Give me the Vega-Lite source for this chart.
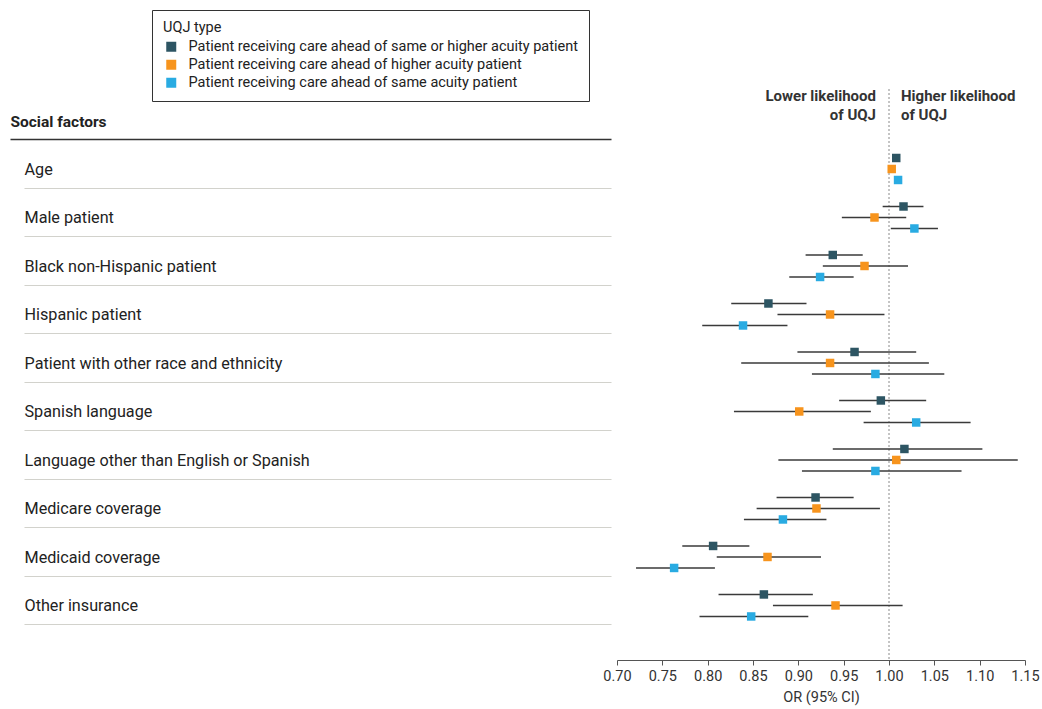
{
  "$schema": "https://vega.github.io/schema/vega-lite/v6.json",
  "autosize": {"type": "none"},
  "padding": {"left": 617, "top": 89, "right": 17, "bottom": 49},
  "width": 408,
  "height": 571,
  "config": {
    "font": "Roboto",
    "view": {"stroke": null},
    "axis": {"labelFont": "Roboto", "titleFont": "Roboto"},
    "legend": {"labelFont": "Roboto", "titleFont": "Roboto"}
  },
  "datasets": {
    "est": [
      {"factor": "Age", "series": "Patient receiving care ahead of same or higher acuity patient", "or": 1.008, "lo": 1.006, "hi": 1.010},
      {"factor": "Age", "series": "Patient receiving care ahead of higher acuity patient", "or": 1.003, "lo": 1.001, "hi": 1.005},
      {"factor": "Age", "series": "Patient receiving care ahead of same acuity patient", "or": 1.010, "lo": 1.008, "hi": 1.012},
      {"factor": "Male patient", "series": "Patient receiving care ahead of same or higher acuity patient", "or": 1.016, "lo": 0.993, "hi": 1.038},
      {"factor": "Male patient", "series": "Patient receiving care ahead of higher acuity patient", "or": 0.984, "lo": 0.948, "hi": 1.019},
      {"factor": "Male patient", "series": "Patient receiving care ahead of same acuity patient", "or": 1.028, "lo": 1.002, "hi": 1.054},
      {"factor": "Black non-Hispanic patient", "series": "Patient receiving care ahead of same or higher acuity patient", "or": 0.938, "lo": 0.908, "hi": 0.971},
      {"factor": "Black non-Hispanic patient", "series": "Patient receiving care ahead of higher acuity patient", "or": 0.973, "lo": 0.927, "hi": 1.021},
      {"factor": "Black non-Hispanic patient", "series": "Patient receiving care ahead of same acuity patient", "or": 0.924, "lo": 0.890, "hi": 0.961},
      {"factor": "Hispanic patient", "series": "Patient receiving care ahead of same or higher acuity patient", "or": 0.867, "lo": 0.826, "hi": 0.909},
      {"factor": "Hispanic patient", "series": "Patient receiving care ahead of higher acuity patient", "or": 0.935, "lo": 0.877, "hi": 0.995},
      {"factor": "Hispanic patient", "series": "Patient receiving care ahead of same acuity patient", "or": 0.839, "lo": 0.794, "hi": 0.888},
      {"factor": "Patient with other race and ethnicity", "series": "Patient receiving care ahead of same or higher acuity patient", "or": 0.962, "lo": 0.899, "hi": 1.030},
      {"factor": "Patient with other race and ethnicity", "series": "Patient receiving care ahead of higher acuity patient", "or": 0.935, "lo": 0.837, "hi": 1.044},
      {"factor": "Patient with other race and ethnicity", "series": "Patient receiving care ahead of same acuity patient", "or": 0.985, "lo": 0.915, "hi": 1.061},
      {"factor": "Spanish language", "series": "Patient receiving care ahead of same or higher acuity patient", "or": 0.991, "lo": 0.945, "hi": 1.041},
      {"factor": "Spanish language", "series": "Patient receiving care ahead of higher acuity patient", "or": 0.901, "lo": 0.829, "hi": 0.980},
      {"factor": "Spanish language", "series": "Patient receiving care ahead of same acuity patient", "or": 1.030, "lo": 0.972, "hi": 1.090},
      {"factor": "Language other than English or Spanish", "series": "Patient receiving care ahead of same or higher acuity patient", "or": 1.017, "lo": 0.938, "hi": 1.103},
      {"factor": "Language other than English or Spanish", "series": "Patient receiving care ahead of higher acuity patient", "or": 1.008, "lo": 0.878, "hi": 1.142},
      {"factor": "Language other than English or Spanish", "series": "Patient receiving care ahead of same acuity patient", "or": 0.985, "lo": 0.904, "hi": 1.080},
      {"factor": "Medicare coverage", "series": "Patient receiving care ahead of same or higher acuity patient", "or": 0.919, "lo": 0.876, "hi": 0.961},
      {"factor": "Medicare coverage", "series": "Patient receiving care ahead of higher acuity patient", "or": 0.920, "lo": 0.854, "hi": 0.990},
      {"factor": "Medicare coverage", "series": "Patient receiving care ahead of same acuity patient", "or": 0.883, "lo": 0.840, "hi": 0.931},
      {"factor": "Medicaid coverage", "series": "Patient receiving care ahead of same or higher acuity patient", "or": 0.806, "lo": 0.772, "hi": 0.846},
      {"factor": "Medicaid coverage", "series": "Patient receiving care ahead of higher acuity patient", "or": 0.866, "lo": 0.810, "hi": 0.925},
      {"factor": "Medicaid coverage", "series": "Patient receiving care ahead of same acuity patient", "or": 0.763, "lo": 0.721, "hi": 0.808},
      {"factor": "Other insurance", "series": "Patient receiving care ahead of same or higher acuity patient", "or": 0.862, "lo": 0.812, "hi": 0.916},
      {"factor": "Other insurance", "series": "Patient receiving care ahead of higher acuity patient", "or": 0.941, "lo": 0.872, "hi": 1.015},
      {"factor": "Other insurance", "series": "Patient receiving care ahead of same acuity patient", "or": 0.848, "lo": 0.791, "hi": 0.911}
    ]
  },
  "layer": [
    {
      "data": {"values": [{"ref": 1.0}]},
      "mark": {"type": "rule", "color": "#8a8a8a", "strokeWidth": 1, "strokeDash": [2, 2]},
      "encoding": {"x": {"field": "ref", "type": "quantitative"}}
    },
    {
      "data": {"values": [{"side": "lower", "note": "Lower likelihood\nof UQJ", "ref": 1.0, "row": "Social factors"}]},
      "mark": {"type": "text", "align": "right", "baseline": "bottom", "dx": -13, "dy": -16, "fontSize": 15, "fontWeight": "bold", "color": "#333333", "lineBreak": "\n", "lineHeight": 19},
      "encoding": {
        "x": {"field": "ref", "type": "quantitative"},
        "y": {"field": "row", "type": "nominal"},
        "text": {"field": "note"}
      }
    },
    {
      "data": {"values": [{"side": "higher", "note": "Higher likelihood\nof UQJ", "ref": 1.0, "row": "Social factors"}]},
      "mark": {"type": "text", "align": "left", "baseline": "bottom", "dx": 12, "dy": -16, "fontSize": 15, "fontWeight": "bold", "color": "#333333", "lineBreak": "\n", "lineHeight": 19},
      "encoding": {
        "x": {"field": "ref", "type": "quantitative"},
        "y": {"field": "row", "type": "nominal"},
        "text": {"field": "note"}
      }
    },
    {
      "data": {"name": "est"},
      "mark": {"type": "rule", "color": "#3a3a3a", "strokeWidth": 1.6},
      "encoding": {
        "x": {"field": "lo", "type": "quantitative"},
        "x2": {"field": "hi"},
        "y": {"field": "factor", "type": "nominal"},
        "yOffset": {"field": "series", "type": "nominal", "sort": null,
          "scale": {"domain": ["Patient receiving care ahead of same or higher acuity patient", "Patient receiving care ahead of higher acuity patient", "Patient receiving care ahead of same acuity patient"], "paddingInner": 0, "paddingOuter": 0.7045}}
      }
    },
    {
      "data": {"name": "est"},
      "mark": {"type": "point", "shape": "square", "filled": true, "opacity": 1, "size": 72, "strokeWidth": 0},
      "encoding": {
        "x": {
          "field": "or", "type": "quantitative",
          "scale": {"domain": [0.7, 1.15], "nice": false, "zero": false},
          "axis": {
            "values": [0.7, 0.75, 0.8, 0.85, 0.9, 0.95, 1.0, 1.05, 1.1, 1.15],
            "format": ".2f", "title": "OR (95% CI)", "grid": false, "labelFlush": false, "labelOverlap": false,
            "domainColor": "#555555", "tickColor": "#555555", "tickSize": 5,
            "labelFontSize": 14.5, "labelColor": "#333333", "labelPadding": 4,
            "titleFontSize": 14.5, "titleFontWeight": "normal", "titleColor": "#333333", "titlePadding": 8
          }
        },
        "y": {
          "field": "factor", "type": "nominal",
          "scale": {"domain": ["Social factors", "Age", "Male patient", "Black non-Hispanic patient", "Hispanic patient", "Patient with other race and ethnicity", "Spanish language", "Language other than English or Spanish", "Medicare coverage", "Medicaid coverage", "Other insurance"], "paddingInner": 0, "paddingOuter": 0.387, "align": 0.193},
          "axis": {
            "title": null, "domain": false, "grid": false, "offset": 6,
            "tickOffset": 18.7, "labelOffset": {"condition": {"test": "datum.value === 'Social factors'", "value": -17.2}, "value": -18.2},
            "tickSize": {"condition": {"test": "datum.value === 'Social factors'", "value": 601}, "value": 587},
            "tickColor": {"condition": {"test": "datum.value === 'Social factors'", "value": "#333333"}, "value": "#d2d2cc"},
            "tickWidth": {"condition": {"test": "datum.value === 'Social factors'", "value": 1.6}, "value": 1.2},
            "labelAlign": "left", "labelPadding": 0, "labelLimit": 600,
            "labelFontSize": {"condition": {"test": "datum.value === 'Social factors'", "value": 15.5}, "value": 16.2},
            "labelColor": "#222222",
            "labelFontWeight": {"condition": {"test": "datum.value === 'Social factors'", "value": "bold"}, "value": "normal"}
          }
        },
        "yOffset": {"field": "series", "type": "nominal", "sort": null,
          "scale": {"domain": ["Patient receiving care ahead of same or higher acuity patient", "Patient receiving care ahead of higher acuity patient", "Patient receiving care ahead of same acuity patient"], "paddingInner": 0, "paddingOuter": 0.7045}},
        "color": {
          "field": "series", "type": "nominal",
          "scale": {"domain": ["Patient receiving care ahead of same or higher acuity patient", "Patient receiving care ahead of higher acuity patient", "Patient receiving care ahead of same acuity patient"], "range": ["#2d5563", "#f7941d", "#29abe2"]},
          "legend": {
            "title": "UQJ type", "orient": "none", "legendX": -465, "legendY": -79,
            "strokeColor": "#333333", "fillColor": "white", "padding": 11, "cornerRadius": 0,
            "symbolType": "square", "symbolSize": 100, "symbolStrokeWidth": 0, "symbolOpacity": 1, "symbolOffset": 1,
            "labelFontSize": 14.5, "labelColor": "#222222", "labelLimit": 600, "labelOffset": 10, "rowPadding": 3,
            "titleFontSize": 14.5, "titleFontWeight": "normal", "titleColor": "#222222", "titlePadding": 4
          }
        }
      }
    }
  ]
}
